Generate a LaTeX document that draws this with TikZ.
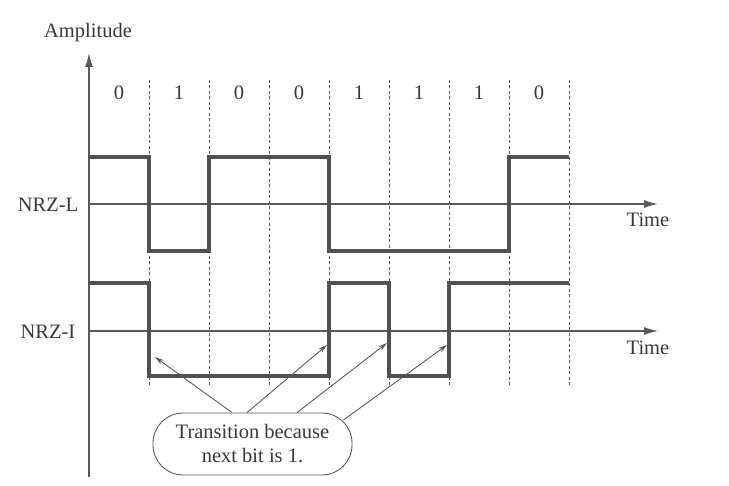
\documentclass[tikz,border=0pt]{standalone}
\usepackage{fontspec}
\setmainfont{Liberation Serif}
\usetikzlibrary{arrows.meta}
\definecolor{siggray}{HTML}{505050}
\definecolor{axisgray}{HTML}{5A5A5A}
\definecolor{txtgray}{HTML}{383838}
\begin{document}
\begin{tikzpicture}[x=1pt,y=-1pt,
  axisline/.style={line width=1.3pt, draw=axisgray},
  axisarrow/.style={axisline, -{Latex[length=14pt,width=8pt]}},
  sigline/.style={line width=3.6pt, draw=siggray, line join=miter},
  bitsep/.style={draw=axisgray, line width=0.8pt, dash pattern=on 3pt off 2.5pt},
  callarrow/.style={draw=axisgray, line width=0.9pt, -{Stealth[length=9pt,width=5pt]}},
  lbl/.style={font=\fontsize{20.5}{24}\selectfont, text=txtgray, inner sep=0pt},
  calloutbox/.style={draw=axisgray, line width=0.9pt, rounded corners=30pt,
    minimum width=199pt, minimum height=62pt, align=center,
    font=\fontsize{20.5}{24}\selectfont, text=txtgray, inner sep=0pt}]
\useasboundingbox (0,0) rectangle (729,486);

% bit boundaries
\foreach \bx in {149,209,269,329,389,449,509,569}
  \draw[bitsep] (\bx,80) -- (\bx,386);

% bit values
\foreach \bv [count=\i from 0] in {0,1,0,0,1,1,1,0}
  \node[lbl] (bit\i) at (119+60*\i,93) {\bv};

% axes
\coordinate (origin) at (89,477);
\coordinate (ytop) at (89,53);
\draw[axisarrow] (origin) -- (ytop);
\node[lbl] (amp) at (88,33) {Amplitude};

\coordinate (lstart) at (89,204);
\coordinate (lend) at (658,204);
\draw[axisarrow] (lstart) -- (lend);
\coordinate (istart) at (89,331);
\coordinate (iend) at (658,331);
\draw[axisarrow] (istart) -- (iend);

\node[lbl] (nrzl) at (48,205) {NRZ-L};
\node[lbl] (nrzi) at (48,332) {NRZ-I};
\node[lbl] (timel) at (648,220) {Time};
\node[lbl] (timei) at (648,348) {Time};

% NRZ-L waveform
\draw[sigline] (89,157) -- (149,157) -- (149,251) -- (209,251) -- (209,157)
  -- (329,157) -- (329,251) -- (509,251) -- (509,157) -- (569,157);

% NRZ-I waveform
\draw[sigline] (89,283) -- (149,283) -- (149,376) -- (329,376) -- (329,283)
  -- (389,283) -- (389,376) -- (449,376) -- (449,283) -- (569,283);

% callout and its arrows to the transitions
\node[calloutbox] (note) at (252.5,444) {Transition because\\next bit is 1.};
\coordinate (tr1) at (155,357);
\coordinate (tr2) at (327,345);
\coordinate (tr3) at (387,343);
\coordinate (tr4) at (447,345);
\draw[callarrow] ([xshift=-20.5pt]note.north) -- (tr1);
\draw[callarrow] ([xshift=-5.5pt]note.north) -- (tr2);
\draw[callarrow] ([xshift=44.5pt]note.north) -- (tr3);
\draw[callarrow] ([xshift=-9pt,yshift=24pt]note.east) -- (tr4);
\end{tikzpicture}
\end{document}
